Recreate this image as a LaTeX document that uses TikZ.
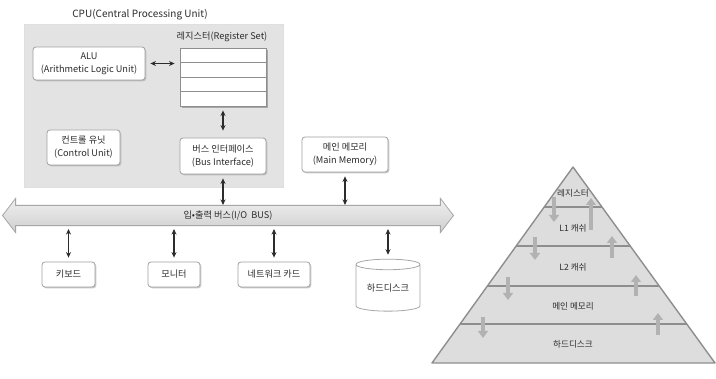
\documentclass[tikz,border=0pt]{standalone}
\usepackage{fontspec}
\setmainfont{Noto Sans CJK KR}
\usetikzlibrary{arrows.meta,positioning,shapes.geometric,shapes.arrows,shadows,calc}
\definecolor{ink}{HTML}{2C2C2C}
\definecolor{cpugray}{HTML}{E3E3E3}
\definecolor{edgegray}{HTML}{A0A0A0}
\definecolor{busgray}{HTML}{D8D8D8}
\definecolor{pyrgray}{HTML}{DDDDDD}
\definecolor{layergray}{HTML}{8E8E8E}
\newcommand{\boxfont}{\fontsize{9.2}{13}\selectfont}
\tikzset{
  unitbox/.style={draw=edgegray,fill=white,line width=0.8pt,rounded corners=3pt,
                  align=center,font=\boxfont,text=ink,inner sep=2pt,
                  drop shadow={shadow xshift=1.3pt,shadow yshift=-1.3pt,fill=gray!70,opacity=0.6}},
  regrow/.style={draw=layergray,fill=white,line width=0.9pt,inner sep=0pt,
                 minimum width=86pt,minimum height=14.5pt,
                 drop shadow={shadow xshift=1.8pt,shadow yshift=-1.8pt,fill=gray!85,opacity=0.75}},
  cpubox/.style={draw=gray!25,fill=cpugray,line width=0.8pt},
  busarrow/.style={double arrow,draw=gray!70,top color=gray!12,bottom color=gray!38,
                   line width=0.8pt,double arrow head extend=7pt,double arrow tip angle=105,
                   inner ysep=5pt,font=\boxfont,text=ink},
  diskbox/.style={cylinder,shape border rotate=90,aspect=0.25,draw=gray!70,fill=white,
                  line width=0.8pt,font=\boxfont,text=ink,inner sep=0pt},
  dblarr/.style={{Stealth[length=5.5pt,width=5pt]}-{Stealth[length=5.5pt,width=5pt]},
                 line width=1.2pt,draw=ink},
  layerarr/.style={-{Triangle[length=7pt,width=10pt]},line width=3.8pt,draw=gray!60},
  pyrlabel/.style={font=\fontsize{8.6}{10}\selectfont,text=ink}
}

\begin{document}
\begin{tikzpicture}[x=1pt,y=-1pt]
  \useasboundingbox[fill=white] (0,0) rectangle (716,379);

  % CPU
  \node[cpubox,minimum width=259pt,minimum height=163pt] (cpu) at (153.5,105.5) {};
  \node[font=\fontsize{10}{12}\selectfont,text=ink] (cputitle) at (140,15) {CPU(Central Processing Unit)};
  \node[unitbox,minimum width=112pt,minimum height=33pt] (alu) at (89,63.5)
    {ALU\\(Arithmetic Logic Unit)};
  \node[unitbox,minimum width=73pt,minimum height=35pt] (ctrl) at (83.5,147.5)
    {컨트롤 유닛\\(Control Unit)};
  \node[unitbox,minimum width=86pt,minimum height=36pt] (busif) at (223,156)
    {버스 인터페이스\\(Bus Interface)};
  \foreach \i in {1,...,4}
    \node[regrow] (reg\i) at (223,{40.75+14.5*\i}) {};
  \node[font=\boxfont,text=ink] (reglabel) at (222,37) {레지스터(Register Set)};
  \draw[dblarr] ([xshift=5pt]alu.east) -- ([xshift=-5pt]alu.east -| reg1.west);
  \draw[dblarr,shorten <=4pt,shorten >=7pt] (reg4.south) -- (busif.north);

  % memory and bus
  \node[unitbox,minimum width=86pt,minimum height=35pt] (mem) at (345,154.5)
    {메인 메모리\\(Main Memory)};
  \node[busarrow,minimum height=451pt] (iobus) at (228,215.5) {입•출력 버스(I/O\ \ BUS)};
  \draw[dblarr,shorten <=4pt] (busif.south) -- (busif.south |- iobus.north);
  \draw[dblarr,shorten <=4pt] (mem.south) -- (mem.south |- iobus.north);

  % devices
  \node[unitbox,minimum width=53pt,minimum height=25pt] (kbd) at (68.5,274.5) {키보드};
  \node[unitbox,minimum width=52pt,minimum height=25pt] (mon) at (174,274.5) {모니터};
  \node[unitbox,minimum width=72pt,minimum height=25pt] (net) at (274,274.5) {네트워크 카드};
  \node[diskbox,minimum width=64pt,minimum height=52pt] (disk) at (388,288) {하드디스크};
  \foreach \dev in {kbd,mon,net,disk}
    \draw[dblarr,shorten <=3pt,shorten >=4pt] (\dev.north |- iobus.south) -- (\dev.north);

  % memory hierarchy
  \coordinate (apex) at (573,167);
  \coordinate (bl) at (432,363);
  \coordinate (br) at (715,363);
  \fill[pyrgray] (apex) -- (bl) -- (br) -- cycle;
  \foreach \t in {0.204,0.403,0.607,0.801}
    \draw[layergray,line width=2pt] ($(apex)!\t!(bl)$) -- ($(apex)!\t!(br)$);
  \draw[layergray,line width=1.4pt,line join=round] (apex) -- (bl) -- (br) -- cycle;
  \node[pyrlabel] (lvreg) at (573,193) {레지스터};
  \node[pyrlabel] (lvlone) at (573,228) {L1 캐쉬};
  \node[pyrlabel] (lvltwo) at (573,267) {L2 캐쉬};
  \node[pyrlabel] (lvmem) at (573,306) {메인 메모리};
  \node[pyrlabel] (lvdisk) at (573,344) {하드디스크};
  \foreach \x/\ya/\yb in {554/197/222,535/237/260,508/277/300,483/317/338}
    \draw[layerarr] (\x,\ya) -- (\x,\yb);
  \foreach \x/\ya/\yb in {591/230/198,612/258/236,636/296/275,658/335/313}
    \draw[layerarr] (\x,\ya) -- (\x,\yb);
\end{tikzpicture}
\end{document}
